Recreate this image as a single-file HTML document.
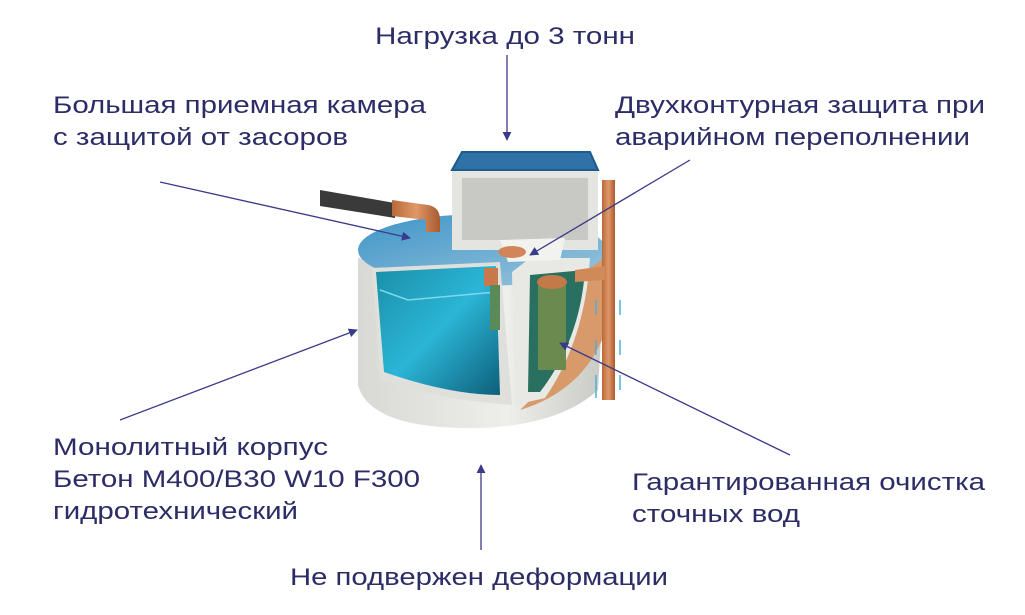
<!DOCTYPE html>
<html><head><meta charset="utf-8"><style>
html,body{margin:0;padding:0;background:#fff;}
svg{display:block;}
text{font-family:"Liberation Sans Narrow","Liberation Sans",sans-serif;font-size:24px;fill:#2c2c66;}
</style></head><body>
<svg width="1025" height="615" viewBox="0 0 1025 615" xmlns="http://www.w3.org/2000/svg">
<defs>
<linearGradient id="water" x1="0" y1="0" x2="1" y2="1">
<stop offset="0" stop-color="#1a8fa8"/><stop offset="0.5" stop-color="#2bb5d6"/><stop offset="1" stop-color="#0d5f7a"/></linearGradient>
<linearGradient id="body" x1="0" y1="0" x2="1" y2="0">
<stop offset="0" stop-color="#d8d8d4"/><stop offset="0.6" stop-color="#eeeeea"/><stop offset="1" stop-color="#c9c9c4"/></linearGradient>
<linearGradient id="top" x1="0" y1="0" x2="1" y2="1">
<stop offset="0" stop-color="#3f94c8"/><stop offset="1" stop-color="#9ac6dc"/></linearGradient>
<linearGradient id="cu" x1="0" y1="0" x2="1" y2="0">
<stop offset="0" stop-color="#b8693a"/><stop offset="0.5" stop-color="#e09868"/><stop offset="1" stop-color="#a85a30"/></linearGradient>
<marker id="ah" viewBox="0 0 10 10" refX="9" refY="5" markerWidth="9" markerHeight="9" orient="auto-start-reverse" markerUnits="userSpaceOnUse">
<path d="M0,0 L10,5 L0,10 z" fill="#3a3a8a"/></marker>
</defs>

<!-- tank body -->
<path d="M358,258 L358,385 Q370,430 480,428 Q560,425 598,390 L606,250 Z" fill="url(#body)"/>
<path d="M520,410 Q585,390 606,330 L606,250 L590,260 Q575,360 520,410 Z" fill="#d89a6a"/>
<ellipse cx="482" cy="250" rx="124" ry="36" fill="url(#top)"/>
<!-- cutaway water chamber -->
<path d="M372,268 L500,262 L512,405 Q440,400 380,380 Z" fill="#dfe0dc"/>
<path d="M376,272 L496,266 L500,395 Q450,395 384,372 Z" fill="url(#water)"/>
<path d="M380,290 L408,300 L496,292" stroke="#7fd8ec" stroke-width="1.5" fill="none"/>
<!-- middle chamber -->
<path d="M512,272 L530,258 L590,258 Q585,340 545,398 L515,405 Z" fill="#e8e8e4"/>
<path d="M530,275 L585,270 Q580,340 540,392 L528,392 Z" fill="#2a7060"/>
<rect x="538" y="285" width="28" height="85" fill="#6a8a50"/>
<ellipse cx="552" cy="282" rx="15" ry="7" fill="#c47a48"/>
<!-- box on top -->
<rect x="452" y="170" width="146" height="80" fill="#e4e4e0"/>
<rect x="462" y="178" width="126" height="62" fill="#c8c8c4"/>
<path d="M452,170 L462,152 L590,152 L598,170 Z" fill="#2f72a8"/>
<path d="M462,152 L590,152 L598,170 L452,170 Z" fill="none" stroke="#1e5a8a" stroke-width="2"/>
<path d="M500,240 L565,238 L560,260 L508,262 Z" fill="#f2f2ef"/>
<ellipse cx="512" cy="252" rx="14" ry="6" fill="#d2855a"/>
<!-- inlet pipe -->
<path d="M320,190 L395,203 L395,218 L320,206 Z" fill="#3a3a3a"/>
<path d="M392,200 L428,205 Q440,207 440,220 L440,232 L426,232 L426,220 L392,216 Z" fill="url(#cu)"/>
<!-- small pipes -->
<rect x="484" y="268" width="14" height="18" fill="#c8784a"/>
<rect x="490" y="285" width="10" height="45" fill="#5a8a58"/>
<!-- vertical pipe -->
<rect x="602" y="180" width="13" height="220" fill="url(#cu)"/>
<path d="M575,270 L605,266 L605,280 L575,282 Z" fill="#d08a5a"/>
<g stroke="#4ab0d8" stroke-width="1.5">
<line x1="596" y1="300" x2="596" y2="315"/><line x1="620" y1="300" x2="620" y2="315"/>
<line x1="596" y1="340" x2="596" y2="355"/><line x1="620" y1="340" x2="620" y2="355"/>
<line x1="596" y1="375" x2="596" y2="398"/><line x1="620" y1="375" x2="620" y2="390"/>
</g>

<!-- arrows -->
<g stroke="#3a3a8a" stroke-width="1.3" fill="none">
<line x1="507" y1="55" x2="507" y2="140" marker-end="url(#ah)"/>
<line x1="160" y1="182" x2="410" y2="238" marker-end="url(#ah)"/>
<line x1="690" y1="160" x2="530" y2="255" marker-end="url(#ah)"/>
<line x1="120" y1="420" x2="357" y2="330" marker-end="url(#ah)"/>
<line x1="790" y1="455" x2="560" y2="343" marker-end="url(#ah)"/>
<line x1="481" y1="550" x2="481" y2="465" marker-end="url(#ah)"/>
</g>

<!-- labels -->
<text x="375" y="44" textLength="260" lengthAdjust="spacingAndGlyphs">Нагрузка до 3 тонн</text>
<text x="53" y="113" textLength="373" lengthAdjust="spacingAndGlyphs">Большая приемная камера</text>
<text x="53" y="145" textLength="295" lengthAdjust="spacingAndGlyphs">с защитой от засоров</text>
<text x="615" y="113" textLength="370" lengthAdjust="spacingAndGlyphs">Двухконтурная защита при</text>
<text x="615" y="145" textLength="355" lengthAdjust="spacingAndGlyphs">аварийном переполнении</text>
<text x="53" y="455" textLength="275" lengthAdjust="spacingAndGlyphs">Монолитный корпус</text>
<text x="53" y="487" textLength="367" lengthAdjust="spacingAndGlyphs">Бетон M400/B30 W10 F300</text>
<text x="53" y="519" textLength="245" lengthAdjust="spacingAndGlyphs">гидротехнический</text>
<text x="632" y="490" textLength="353" lengthAdjust="spacingAndGlyphs">Гарантированная очистка</text>
<text x="632" y="522" textLength="168" lengthAdjust="spacingAndGlyphs">сточных вод</text>
<text x="290" y="585" textLength="378" lengthAdjust="spacingAndGlyphs">Не подвержен деформации</text>
</svg>
</body></html>
